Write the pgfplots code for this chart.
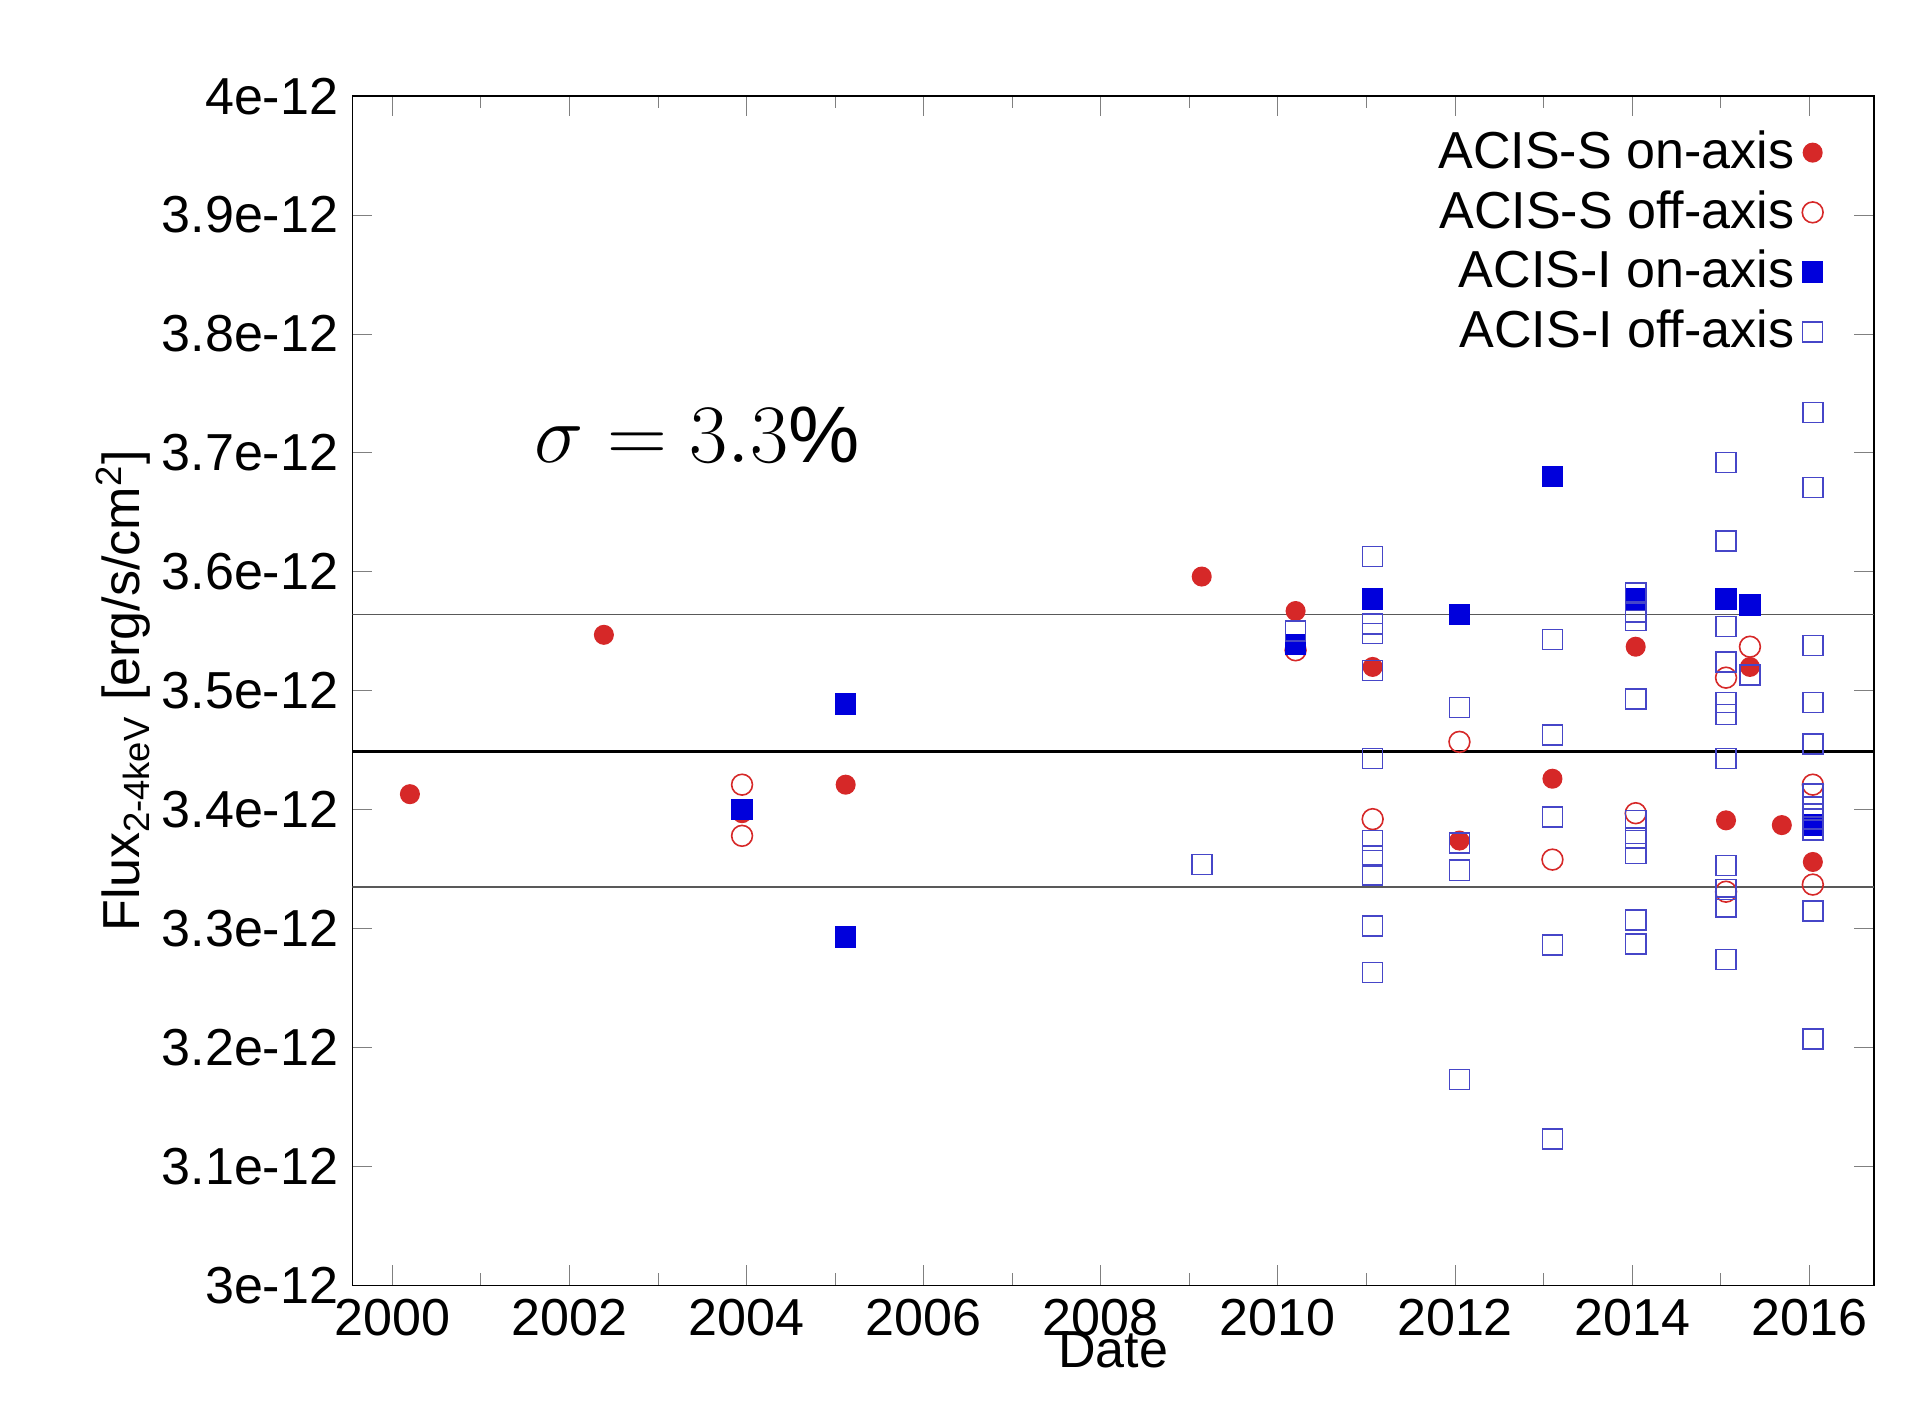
\documentclass[border=0pt]{standalone}
\usepackage{pgfplots}
\pgfplotsset{compat=1.18}
\usepackage{fontspec}
\setmainfont{Liberation Sans}
\definecolor{cred}{RGB}{214,40,40}
\definecolor{cblue}{RGB}{0,0,220}
\definecolor{lblue}{RGB}{70,70,200}
\begin{document}
\begin{tikzpicture}
\begin{axis}[
  scale only axis, width=380pt, height=297pt,
  xmin=1999.55, xmax=2016.73, ymin=3.0, ymax=4.0,
  xtick={2000,2002,...,2016}, minor xtick={2001,2003,...,2015},
  xticklabel style={/pgf/number format/1000 sep={}},
  ytick={3.0,3.1,...,4.01},
  yticklabels={3e-12,3.1e-12,3.2e-12,3.3e-12,3.4e-12,3.5e-12,3.6e-12,3.7e-12,3.8e-12,3.9e-12,4e-12},
  /pgf/number format/assume math mode=true,
  tick label style={font=\fontsize{13}{15}\selectfont},
  label style={font=\fontsize{13}{15}\selectfont},
  xlabel={Date}, ylabel={Flux\textsubscript{2-4keV} [erg/s/cm\textsuperscript{2}]},
  xlabel style={yshift=8pt}, ylabel style={yshift=-4pt},
  tick align=inside, major tick length=5pt, minor tick length=3pt,
  legend style={draw=none, fill=none, at={(0.975,0.985)}, anchor=north east,
    font=\fontsize{13}{15}\selectfont, row sep=0pt},
  legend cell align=right, legend plot pos=right,
]
\addplot[only marks, mark=*, mark size=2.3pt, color=cred] coordinates {
(2000.2,3.413)(2002.39,3.547)(2003.95,3.397)(2005.12,3.421)(2009.14,3.596)(2010.2,3.567)
(2011.07,3.520)(2012.05,3.374)(2013.1,3.426)(2014.04,3.537)(2015.06,3.391)(2015.33,3.520)
(2015.69,3.387)(2016.04,3.356)};
\addlegendentry{ACIS-S on-axis}
\addplot[only marks, mark=o, mark size=2.6pt, color=cred, thin] coordinates {
(2003.95,3.421)(2003.95,3.378)(2010.2,3.534)(2011.07,3.392)(2012.05,3.457)(2013.1,3.358)
(2014.04,3.397)(2015.06,3.511)(2015.06,3.331)(2015.33,3.537)(2016.04,3.421)(2016.04,3.337)};
\addlegendentry{ACIS-S off-axis}
\addplot[only marks, mark=square*, mark size=2.5pt, color=cblue] coordinates {
(2003.95,3.400)(2005.12,3.489)(2005.12,3.293)(2010.2,3.539)(2011.07,3.577)(2012.05,3.564)
(2013.1,3.680)(2014.04,3.577)(2015.06,3.577)(2015.33,3.572)(2016.04,3.387)};
\addlegendentry{ACIS-I on-axis}
\addplot[only marks, mark=square, mark size=2.5pt, color=lblue, thin] coordinates {
(2009.14,3.354)(2010.2,3.550)
(2011.07,3.613)(2011.07,3.556)(2011.07,3.548)(2011.07,3.517)(2011.07,3.443)(2011.07,3.374)
(2011.07,3.361)(2011.07,3.345)(2011.07,3.302)(2011.07,3.263)
(2012.05,3.486)(2012.05,3.372)(2012.05,3.349)(2012.05,3.173)
(2013.1,3.543)(2013.1,3.463)(2013.1,3.394)(2013.1,3.286)(2013.1,3.123)
(2014.04,3.582)(2014.04,3.566)(2014.04,3.559)(2014.04,3.493)(2014.04,3.391)(2014.04,3.376)
(2014.04,3.363)(2014.04,3.307)(2014.04,3.287)
(2015.06,3.692)(2015.06,3.626)(2015.06,3.554)(2015.06,3.524)(2015.06,3.490)(2015.06,3.480)
(2015.06,3.443)(2015.06,3.353)(2015.06,3.333)(2015.06,3.318)(2015.06,3.274)
(2015.33,3.513)
(2016.04,3.734)(2016.04,3.671)(2016.04,3.538)(2016.04,3.490)(2016.04,3.455)(2016.04,3.413)
(2016.04,3.402)(2016.04,3.392)(2016.04,3.383)(2016.04,3.315)(2016.04,3.207)};
\addlegendentry{ACIS-I off-axis}
\addplot[gray!70!black, thin, forget plot] coordinates {(1999.55,3.564)(2016.73,3.564)};
\addplot[black, semithick, forget plot] coordinates {(1999.55,3.449)(2016.73,3.449)};
\addplot[gray!70!black, thin, forget plot] coordinates {(1999.55,3.335)(2016.73,3.335)};
\node[anchor=west, font=\fontsize{20}{24}\selectfont] at (axis cs:2001.45,3.715) {$\sigma = 3.3\%$};
\end{axis}
\path (current axis.south west) ++(-88pt,-33pt) coordinate (bl);
\path (current axis.north east) ++(12pt,24pt) coordinate (tr);
\useasboundingbox (bl) rectangle (tr);
\end{tikzpicture}
\end{document}
